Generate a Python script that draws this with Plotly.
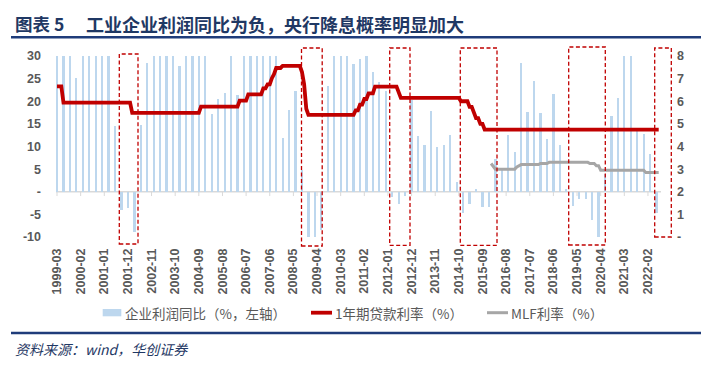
import pandas as pd
import plotly.graph_objects as go

# ---------------- data ----------------
months = pd.period_range("1999-03", "2022-07", freq="M").strftime("%Y-%m").tolist()
bar_months = [m for m in months if m[-2:] in ("03", "06", "09", "12")]

profit_yoy = [
    30, 30, 30, 25.1,
    30, 30, 30, 30,
    30, 14.6, -4.1, -3.7,
    -9.0, 14.7, 28.4, 30,
    30, 30, 30, 27.7,
    30, 30, 30, 30,
    17.2, 20.5, 21.8, 30,
    21.3, 30, 30, 30,
    30, 30, 30, 11.9,
    18.1, 22.3, 4.7, -10,
    -10, -8.5, 23.3, 30,
    30, 30, 28.2, 29.3,
    30, 26.4, 24.2, 22.2,
    -1.2, -2.8, -0.9, 20.3,
    12.3, 10.4, 17.9, 9.9,
    10.3, 12.5, 2.1, -4.8,
    -2.6, 0.7, -3.4, -3.4,
    7.3, 5.1, 12.5, 8.7,
    28.4, 17.6, 24.4, 17.4,
    11.7, 21.7, 10.4, 0.5,
    -3.2, -1.7, -1.7, -6.3,
    -10, 4.0, 16.7, 20.8,
    30, 30, 14.2, 12.8,
    8.4, -4.6,
]

loan_months = ["1999-03", "1999-05", "1999-06", "2002-01", "2002-02", "2004-09", "2004-10",
               "2006-03", "2006-04", "2006-07", "2006-08", "2007-02", "2007-03", "2007-04",
               "2007-05", "2007-06", "2007-07", "2007-08", "2007-09", "2007-11", "2007-12",
               "2008-08", "2008-09", "2008-10", "2008-11", "2008-12", "2010-09", "2010-10",
               "2010-11", "2010-12", "2011-01", "2011-02", "2011-03", "2011-04", "2011-06",
               "2011-07", "2012-05", "2012-06", "2012-07", "2014-10", "2014-11", "2015-02",
               "2015-03", "2015-04", "2015-05", "2015-06", "2015-07", "2015-08", "2015-09",
               "2015-10", "2022-07"]
loan_rate = [6.66, 6.66, 5.94, 5.94, 5.49, 5.49, 5.76,
             5.76, 6.03, 6.03, 6.30, 6.30, 6.57, 6.57,
             6.75, 6.75, 7.02, 7.20, 7.47, 7.47, 7.56,
             7.56, 7.29, 6.75, 5.67, 5.40, 5.40, 5.60,
             5.60, 5.85, 5.85, 6.10, 6.10, 6.35, 6.35,
             6.65, 6.65, 6.40, 6.15, 6.15, 6.00, 6.00,
             5.75, 5.75, 5.50, 5.25, 5.25, 5.00, 5.00,
             4.75, 4.75]

mlf_months = ["2016-01", "2016-03", "2016-12", "2017-01", "2017-03", "2017-11", "2017-12",
              "2018-03", "2018-04", "2019-10", "2019-11", "2020-01", "2020-02", "2020-03",
              "2020-04", "2021-12", "2022-01", "2022-07"]
mlf_rate = [3.25, 3.00, 3.00, 3.10, 3.20, 3.20, 3.25,
            3.25, 3.30, 3.30, 3.25, 3.25, 3.15, 3.15,
            2.95, 2.95, 2.85, 2.85]

x_ticks = months[::11]
left_ticks = [-10, -5, 0, 5, 10, 15, 20, 25, 30]
left_labels = ["-10", "-5", "-", "5", "10", "15", "20", "25", "30"]
right_ticks = [0, 1, 2, 3, 4, 5, 6, 7, 8]
right_labels = ["-", "1", "2", "3", "4", "5", "6", "7", "8"]

title_no = "图表\u00a05"
title_text = "工业企业利润同比为负，央行降息概率明显加大"
source_text = "资料来源：wind，华创证券"
legend_names = ["企业利润同比（%，左轴）", "1年期贷款利率（%）", "MLF利率（%）"]

# ---------------- layout helpers ----------------
W, H = 719, 367
L, R, T, B = 48, 653, 48, 229
PW, PH = R - L, B - T


def px(x):
    return (x - L) / PW


def py(y):
    return (B - y) / PH


BAR_C = "#BDD7EE"
RED_C = "#C00000"
GRAY_C = "#A6A6A6"
NAVY = "#1F3864"
TXT = "#595959"
TICK_FONT = dict(family="Liberation Sans", size=12.5, color=TXT, weight="bold")
CJK = "Noto Sans CJK SC"

fig = go.Figure()
fig.add_trace(go.Bar(x=bar_months, y=profit_yoy, marker_color=BAR_C, marker_line_width=0,
                     width=1.05, name=legend_names[0], showlegend=False))
fig.add_trace(go.Scatter(x=loan_months, y=loan_rate, mode="lines", yaxis="y2",
                         line=dict(color=RED_C, width=3.8), name=legend_names[1], showlegend=False))
fig.add_trace(go.Scatter(x=mlf_months, y=mlf_rate, mode="lines", yaxis="y2",
                         line=dict(color=GRAY_C, width=3), name=legend_names[2], showlegend=False))

shapes = []
# zero axis line and its tick marks
shapes.append(dict(type="line", xref="paper", yref="y", x0=0, x1=1, y0=0, y1=0,
                   line=dict(color="#D9D9D9", width=1.5), layer="below"))
for t in x_ticks:
    shapes.append(dict(type="line", xref="x", yref="y", x0=t, x1=t, y0=0, y1=-0.95,
                       line=dict(color="#D9D9D9", width=1), layer="below"))

# dashed highlight boxes (pixel positions)
boxes = [(111.3, 46, 130, 236), (293.5, 40, 314.2, 238), (381.7, 40, 402, 237.3),
         (452.3, 40, 489, 237.3), (560.7, 39, 597.3, 237), (646.7, 40, 663.3, 229)]
for x0, y0, x1, y1 in boxes:
    shapes.append(dict(type="rect", xref="paper", yref="paper",
                       x0=px(x0), x1=px(x1), y0=py(y1), y1=py(y0),
                       line=dict(color=RED_C, width=1.3, dash="4px,2.5px"),
                       fillcolor="rgba(0,0,0,0)"))

# rules
for yy in (29.3, 325):
    shapes.append(dict(type="line", xref="paper", yref="paper", x0=px(3), x1=px(693),
                       y0=py(yy), y1=py(yy), line=dict(color="#1F3C7A", width=2.5)))

# legend symbols
shapes.append(dict(type="rect", xref="paper", yref="paper", x0=px(94.7), x1=px(113.3),
                   y0=py(308.3), y1=py(301), fillcolor=BAR_C, line=dict(width=0)))
shapes.append(dict(type="line", xref="paper", yref="paper", x0=px(303), x1=px(324),
                   y0=py(304.7), y1=py(304.7), line=dict(color=RED_C, width=3.8)))
shapes.append(dict(type="line", xref="paper", yref="paper", x0=px(479), x1=px(500),
                   y0=py(304.7), y1=py(304.7), line=dict(color=GRAY_C, width=3)))

annotations = [
    dict(text=title_no, x=px(5), y=py(15.5), xref="paper", yref="paper", xanchor="left",
         yanchor="middle", showarrow=False, font=dict(family=CJK, size=17.5, color=NAVY, weight="bold")),
    dict(text=title_text, x=px(76), y=py(15.5), xref="paper", yref="paper", xanchor="left",
         yanchor="middle", showarrow=False, font=dict(family=CJK, size=18, color=NAVY, weight="bold")),
    dict(text=source_text, x=px(5), y=py(340.5), xref="paper", yref="paper", xanchor="left",
         yanchor="middle", showarrow=False,
         font=dict(family=CJK, size=14, color=NAVY, style="italic")),
    dict(text=legend_names[0], x=px(115), y=py(304.5), xref="paper", yref="paper", xanchor="left",
         yanchor="middle", showarrow=False, font=dict(family=CJK, size=13.5, color=TXT)),
    dict(text=legend_names[1], x=px(325), y=py(304.5), xref="paper", yref="paper", xanchor="left",
         yanchor="middle", showarrow=False, font=dict(family=CJK, size=13.5, color=TXT)),
    dict(text=legend_names[2], x=px(501), y=py(304.5), xref="paper", yref="paper", xanchor="left",
         yanchor="middle", showarrow=False, font=dict(family=CJK, size=13.5, color=TXT)),
]

fig.update_layout(
    width=W, height=H,
    margin=dict(l=L, r=W - R, t=T, b=H - B, pad=0),
    paper_bgcolor="white", plot_bgcolor="white",
    showlegend=False,
    bargap=0,
    xaxis=dict(type="category", categoryorder="array", categoryarray=months,
               range=[-0.47, 281.07], tickmode="array", tickvals=x_ticks, ticktext=x_ticks,
               tickangle=-90, tickfont=TICK_FONT, ticks="", showline=False, showgrid=False,
               zeroline=False, ticklabelstandoff=8),
    yaxis=dict(range=[-10, 30], tickmode="array", tickvals=left_ticks, ticktext=left_labels,
               tickfont=TICK_FONT, showgrid=False, zeroline=False, showline=False, ticks="",
               ticklabelstandoff=14),
    yaxis2=dict(range=[0, 8], overlaying="y", side="right", tickmode="array",
                tickvals=right_ticks, ticktext=right_labels, tickfont=TICK_FONT,
                showgrid=False, zeroline=False, showline=False, ticks="", ticklabelstandoff=15),
    shapes=shapes,
    annotations=annotations,
)

fig.write_html("out.html")
